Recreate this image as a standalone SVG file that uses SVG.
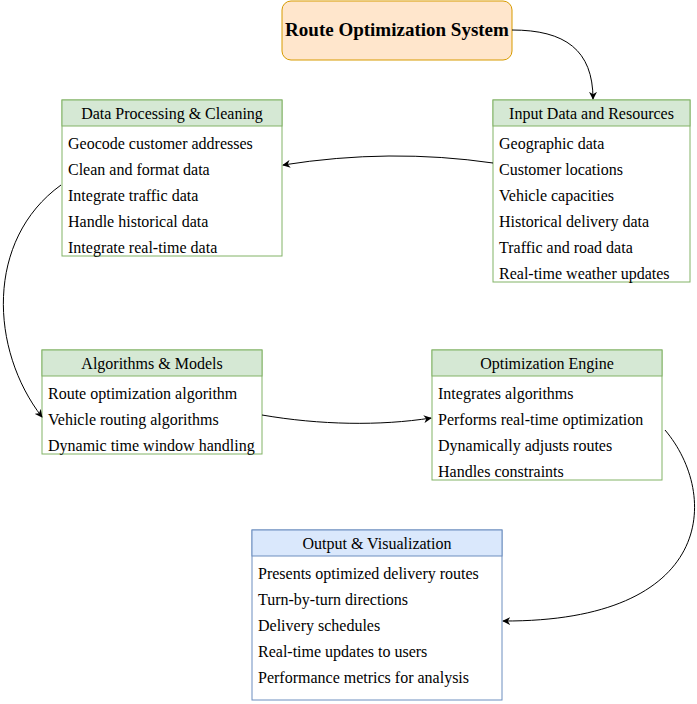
<svg xmlns="http://www.w3.org/2000/svg" width="697" height="704" viewBox="0 0 697 704">
<style>
text{font-family:'Liberation Serif','Times New Roman','DejaVu Serif',serif;font-size:16px;fill:#000}
.h{text-anchor:middle}
.gb{fill:#fff;stroke:#82b366;stroke-width:1}
.gh{fill:#d5e8d4;stroke:#82b366;stroke-width:1}
.bb{fill:#fff;stroke:#6c8ebf;stroke-width:1}
.bh{fill:#dae8fc;stroke:#6c8ebf;stroke-width:1}
.c{fill:none;stroke:#000;stroke-width:1;marker-end:url(#a)}
</style>
<defs>
<marker id="a" viewBox="0 0 10 10" refX="9" refY="5" markerWidth="8" markerHeight="8" markerUnits="userSpaceOnUse" orient="auto">
<path d="M0,0 L10,5 L0,10 L3,5 Z" fill="#000"/>
</marker>
</defs>
<g id="title">
<rect x="282" y="1" width="230" height="59" rx="9" fill="#ffe6cc" stroke="#d79b00"/>
<text x="397" y="36" class="h" style="font-size:19px;font-weight:bold">Route Optimization System</text>
</g>
<g id="input">
<rect class="gb" x="493" y="100" width="197" height="182"/>
<rect class="gh" x="493" y="100" width="197" height="26"/>
<text x="591.5" y="119" class="h">Input Data and Resources</text>
<text x="499" y="149">Geographic data</text>
<text x="499" y="175">Customer locations</text>
<text x="499" y="201">Vehicle capacities</text>
<text x="499" y="227">Historical delivery data</text>
<text x="499" y="253">Traffic and road data</text>
<text x="499" y="279">Real-time weather updates</text>
</g>
<g id="processing">
<rect class="gb" x="62" y="100" width="220" height="156"/>
<rect class="gh" x="62" y="100" width="220" height="26"/>
<text x="172" y="119" class="h">Data Processing &amp; Cleaning</text>
<text x="68" y="149">Geocode customer addresses</text>
<text x="68" y="175">Clean and format data</text>
<text x="68" y="201">Integrate traffic data</text>
<text x="68" y="227">Handle historical data</text>
<text x="68" y="253">Integrate real-time data</text>
</g>
<g id="algorithms">
<rect class="gb" x="42" y="350" width="220" height="104"/>
<rect class="gh" x="42" y="350" width="220" height="26"/>
<text x="152" y="369" class="h">Algorithms &amp; Models</text>
<text x="48" y="399">Route optimization algorithm</text>
<text x="48" y="425">Vehicle routing algorithms</text>
<text x="48" y="451">Dynamic time window handling</text>
</g>
<g id="engine">
<rect class="gb" x="432" y="350" width="230" height="130"/>
<rect class="gh" x="432" y="350" width="230" height="26"/>
<text x="547" y="369" class="h">Optimization Engine</text>
<text x="438" y="399">Integrates algorithms</text>
<text x="438" y="425">Performs real-time optimization</text>
<text x="438" y="451">Dynamically adjusts routes</text>
<text x="438" y="477">Handles constraints</text>
</g>
<g id="output">
<rect class="bb" x="252" y="530" width="250" height="170"/>
<rect class="bh" x="252" y="530" width="250" height="26"/>
<text x="377" y="549" class="h">Output &amp; Visualization</text>
<text x="258" y="579">Presents optimized delivery routes</text>
<text x="258" y="605">Turn-by-turn directions</text>
<text x="258" y="631">Delivery schedules</text>
<text x="258" y="657">Real-time updates to users</text>
<text x="258" y="683">Performance metrics for analysis</text>
</g>
<g id="connectors">
<path class="c" d="M512,30 C565,30 593,50 593,99"/>
<path class="c" d="M493,163 Q390,148 283,165"/>
<path class="c" d="M61,185 C-15,240 -10,350 42,417"/>
<path class="c" d="M262,415 C320,425 380,426 431,418"/>
<path class="c" d="M665,430 C720,495 715,622 503,621"/>
</g>
</svg>
